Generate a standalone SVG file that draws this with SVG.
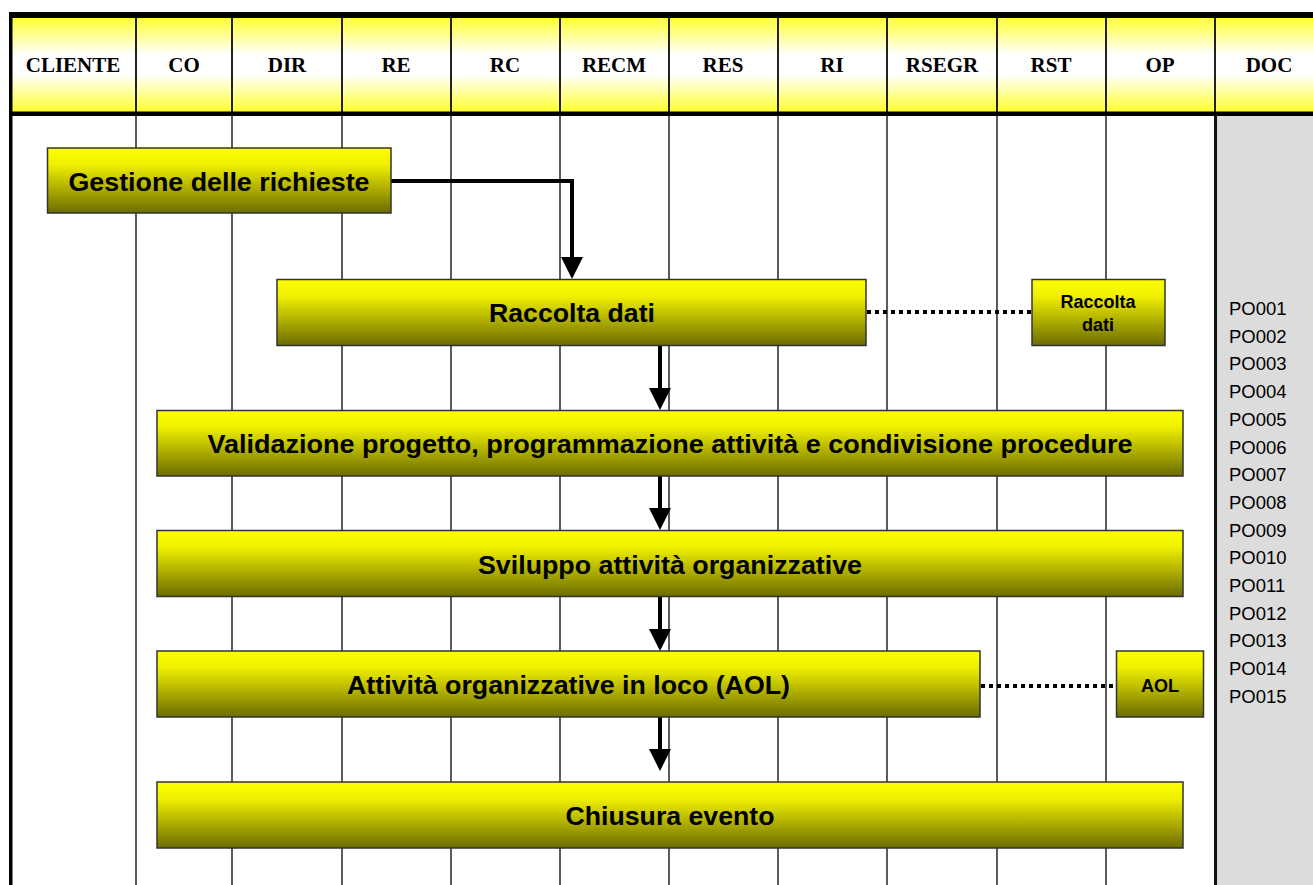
<svg xmlns="http://www.w3.org/2000/svg" width="1313" height="885" viewBox="0 0 1313 885">
<style>
.hd{font-family:"Liberation Serif","Times New Roman",serif;font-weight:bold;font-size:21px;fill:#000;text-anchor:middle}
.nt{font-family:"Liberation Sans",Arial,sans-serif;font-weight:bold;font-size:26px;fill:#000;text-anchor:middle}
.st{font-family:"Liberation Sans",Arial,sans-serif;font-weight:bold;font-size:18px;fill:#000;text-anchor:middle}
.po{font-family:"Liberation Sans",Arial,sans-serif;font-size:18.5px;fill:#000}
.box{fill:url(#ng);stroke:#333;stroke-width:1.5}
.col{stroke:#333;stroke-width:1.6}
.hsep{stroke:#222;stroke-width:2}
.flow{fill:none;stroke:#000;stroke-width:4}
.dot{fill:none;stroke:#000;stroke-width:4;stroke-dasharray:4 4}
</style>
<defs>
<linearGradient id="hg" x1="0" y1="0" x2="0" y2="1">
<stop offset="0" stop-color="#FFFF22"/>
<stop offset="0.4" stop-color="#FFFFFF"/>
<stop offset="0.6" stop-color="#FFFFFF"/>
<stop offset="1" stop-color="#FFFF22"/>
</linearGradient>
<linearGradient id="ng" x1="0" y1="0" x2="0" y2="1">
<stop offset="0" stop-color="#FFFF00"/>
<stop offset="0.25" stop-color="#F0F000"/>
<stop offset="1" stop-color="#6C6C00"/>
</linearGradient>
</defs>

<g id="background">
<rect x="0" y="0" width="1313" height="885" fill="#FFFFFF"/>
<rect x="1216" y="116" width="97" height="769" fill="#DCDCDC"/>
<rect x="10" y="15" width="1303" height="99" fill="url(#hg)"/>
</g>

<g id="lanes">
<line class="hsep" x1="136" y1="17" x2="136" y2="112"/>
<line class="hsep" x1="232" y1="17" x2="232" y2="112"/>
<line class="hsep" x1="342" y1="17" x2="342" y2="112"/>
<line class="hsep" x1="451" y1="17" x2="451" y2="112"/>
<line class="hsep" x1="560" y1="17" x2="560" y2="112"/>
<line class="hsep" x1="669" y1="17" x2="669" y2="112"/>
<line class="hsep" x1="778" y1="17" x2="778" y2="112"/>
<line class="hsep" x1="887" y1="17" x2="887" y2="112"/>
<line class="hsep" x1="997" y1="17" x2="997" y2="112"/>
<line class="hsep" x1="1106" y1="17" x2="1106" y2="112"/>
<line class="hsep" x1="1215" y1="17" x2="1215" y2="112"/>
<line class="col" x1="136" y1="116" x2="136" y2="885"/>
<line class="col" x1="232" y1="116" x2="232" y2="885"/>
<line class="col" x1="342" y1="116" x2="342" y2="885"/>
<line class="col" x1="451" y1="116" x2="451" y2="885"/>
<line class="col" x1="560" y1="116" x2="560" y2="885"/>
<line class="col" x1="669" y1="116" x2="669" y2="885"/>
<line class="col" x1="778" y1="116" x2="778" y2="885"/>
<line class="col" x1="887" y1="116" x2="887" y2="885"/>
<line class="col" x1="997" y1="116" x2="997" y2="885"/>
<line class="col" x1="1106" y1="116" x2="1106" y2="885"/>
<line x1="1215.5" y1="116" x2="1215.5" y2="885" stroke="#111" stroke-width="3"/>
<rect x="9" y="12" width="1310" height="6" fill="#000"/>
<rect x="9" y="111.5" width="1310" height="4.5" fill="#000"/>
<rect x="9" y="12" width="3.5" height="873" fill="#000"/>
</g>

<g id="header">
<text class="hd" x="73" y="72">CLIENTE</text>
<text class="hd" x="184" y="72">CO</text>
<text class="hd" x="287" y="72">DIR</text>
<text class="hd" x="396" y="72">RE</text>
<text class="hd" x="505" y="72">RC</text>
<text class="hd" x="614" y="72">RECM</text>
<text class="hd" x="723" y="72">RES</text>
<text class="hd" x="832" y="72">RI</text>
<text class="hd" x="942" y="72">RSEGR</text>
<text class="hd" x="1051" y="72">RST</text>
<text class="hd" x="1160" y="72">OP</text>
<text class="hd" x="1269" y="72">DOC</text>
</g>

<g id="connectors">
<path class="flow" d="M391,181 H572 V258" stroke-width="3.5"/>
<path d="M561,257 L583,257 L572,279 Z" fill="#000"/>
<line class="flow" x1="660" y1="346" x2="660" y2="390" stroke-width="5"/>
<path d="M649,388 L671,388 L660,410 Z" fill="#000"/>
<line class="flow" x1="660" y1="476" x2="660" y2="510" stroke-width="5"/>
<path d="M649,508 L671,508 L660,530 Z" fill="#000"/>
<line class="flow" x1="660" y1="597" x2="660" y2="631" stroke-width="5"/>
<path d="M649,629 L671,629 L660,651 Z" fill="#000"/>
<line class="flow" x1="660" y1="717" x2="660" y2="751" stroke-width="5"/>
<path d="M649,749 L671,749 L660,771 Z" fill="#000"/>
<line class="dot" x1="867" y1="312" x2="1031" y2="312"/>
<line class="dot" x1="981" y1="686" x2="1116" y2="686"/>
</g>

<g id="n-gestione">
<rect class="box" x="47.5" y="148" width="343.5" height="65"/>
<text class="nt" x="219" y="191" textLength="301" lengthAdjust="spacingAndGlyphs">Gestione delle richieste</text>
</g>
<g id="n-raccolta">
<rect class="box" x="277" y="279.5" width="589" height="66"/>
<text class="nt" x="572" y="322" textLength="166" lengthAdjust="spacingAndGlyphs">Raccolta dati</text>
</g>
<g id="n-raccolta-doc">
<rect class="box" x="1032" y="279.5" width="133" height="66"/>
<text class="st" x="1098" y="308">Raccolta</text>
<text class="st" x="1098" y="331">dati</text>
</g>
<g id="n-validazione">
<rect class="box" x="157" y="410.5" width="1026" height="65.5"/>
<text class="nt" x="670" y="453" textLength="925" lengthAdjust="spacingAndGlyphs">Validazione progetto, programmazione attività e condivisione procedure</text>
</g>
<g id="n-sviluppo">
<rect class="box" x="157" y="530.5" width="1026" height="66"/>
<text class="nt" x="670" y="574" textLength="384" lengthAdjust="spacingAndGlyphs">Sviluppo attività organizzative</text>
</g>
<g id="n-aol">
<rect class="box" x="157" y="651" width="823" height="66"/>
<text class="nt" x="568.5" y="694" textLength="443" lengthAdjust="spacingAndGlyphs">Attività organizzative in loco (AOL)</text>
</g>
<g id="n-aol-doc">
<rect class="box" x="1116.5" y="651" width="87" height="66"/>
<text class="st" x="1160" y="692">AOL</text>
</g>
<g id="n-chiusura">
<rect class="box" x="157" y="782" width="1026" height="66"/>
<text class="nt" x="670" y="825" textLength="209" lengthAdjust="spacingAndGlyphs">Chiusura evento</text>
</g>

<g id="doc-list">
<text class="po" x="1229" y="315">PO001</text>
<text class="po" x="1229" y="342.7">PO002</text>
<text class="po" x="1229" y="370.4">PO003</text>
<text class="po" x="1229" y="398.1">PO004</text>
<text class="po" x="1229" y="425.8">PO005</text>
<text class="po" x="1229" y="453.5">PO006</text>
<text class="po" x="1229" y="481.2">PO007</text>
<text class="po" x="1229" y="508.9">PO008</text>
<text class="po" x="1229" y="536.6">PO009</text>
<text class="po" x="1229" y="564.3">PO010</text>
<text class="po" x="1229" y="592">PO011</text>
<text class="po" x="1229" y="619.7">PO012</text>
<text class="po" x="1229" y="647.4">PO013</text>
<text class="po" x="1229" y="675.1">PO014</text>
<text class="po" x="1229" y="702.8">PO015</text>
</g>
</svg>
